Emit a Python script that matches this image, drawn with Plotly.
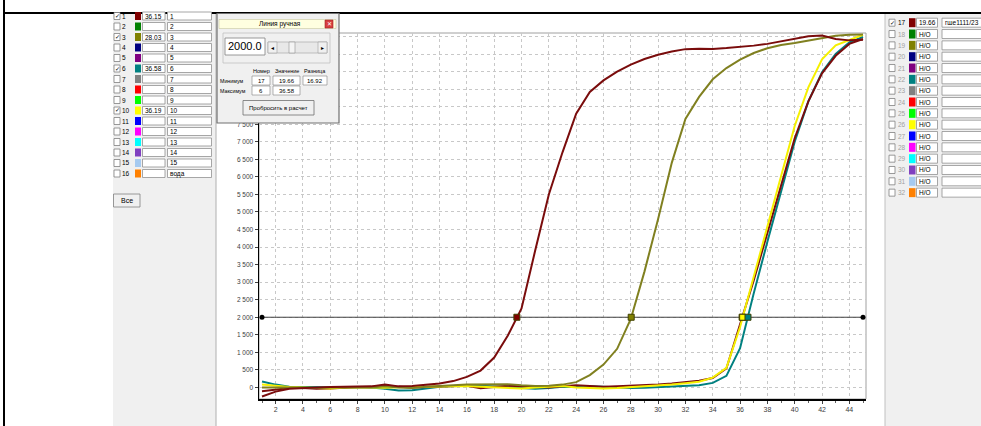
import plotly.graph_objects as go

# ---------------- data ----------------
cycles = list(range(1, 46))

s17_red = [-260, -120, -40, -10, 0, 10, 20, 10, 30, 80,
           30, 40, 70, 110, 180, 300, 480, 850, 1480, 2250,
           3900, 5500, 6700, 7800, 8420, 8750, 9000, 9200, 9360, 9480,
           9570, 9640, 9650, 9645, 9670, 9700, 9740, 9790, 9860, 9950,
           10010, 10030, 9930, 9890, 9910]
s3_olive = [0, 10, 0, -10, -20, 0, 10, 0, 0, 30,
            0, -20, 20, 50, 60, 80, 90, 100, 90, 60,
            40, 50, 80, 150, 350, 650, 1100, 1950, 3300, 4800,
            6400, 7650, 8280, 8780, 9100, 9340, 9530, 9665, 9760, 9815,
            9880, 9960, 10020, 10050, 10060]
s1_red = [-110, -60, -20, -20, -40, -30, 0, 10, 20, 40,
          20, 0, 10, 30, 40, 50, -20, 20, 50, 30,
          10, 0, 30, 60, 40, 20, 30, 40, 60, 80,
          110, 150, 190, 270, 540, 1800, 3050, 4400, 5750, 7100,
          8150, 8950, 9450, 9790, 9930]
s10_yellow = [80, 40, 10, 0, -20, -30, 0, 10, 0, -10,
              10, 20, 20, 30, 50, 40, 20, 0, -20, -30,
              0, 20, 40, 0, -20, -30, -20, 0, 20, 50,
              80, 120, 160, 280, 560, 1720, 3150, 4600, 6000, 7450,
              8550, 9350, 9750, 9900, 10050]
s6_teal = [170, 80, 20, 10, 20, 0, 0, 10, 0, -40,
           -90, -80, -20, 20, 40, 60, 50, 30, 20, -10,
           -40, -20, 20, 10, 30, 20, -10, -20, -10, 10,
           20, 30, 60, 130, 330, 1120, 2680, 4150, 5600, 7000,
           8150, 8980, 9500, 9830, 9990]

threshold = 2000.0
ct_values = [19.66, 28.03, 36.15, 36.19, 36.58]
ct_colors = ["#800000", "#808000", "#800000", "#ffff00", "#008080"]

y_tick_vals = list(range(0, 10001, 500))
x_tick_vals = list(range(2, 45, 2))

left_ids = list(range(1, 17))
right_ids = list(range(17, 33))
well_colors = ["#800000", "#008000", "#808000", "#000080", "#800080", "#008080",
               "#808080", "#ff0000", "#00ff00", "#ffff00", "#0000ff", "#ff00ff",
               "#00ffff", "#8040c0", "#a6caf0", "#ff8000"]
left_checked = [True, False, True, False, False, True, False, False, False, True,
                False, False, False, False, False, False]
left_ct = ["36.15", "", "28.03", "", "", "36.58", "", "", "", "36.19",
           "", "", "", "", "", ""]
left_names = ["1", "2", "3", "4", "5", "6", "7", "8", "9", "10",
              "11", "12", "13", "14", "15", "вода"]
right_checked = [True] + [False] * 15
right_ct = ["19.66"] + ["Н/О"] * 15
right_names = ["гше1111/23"] + [""] * 15

# ---------------- geometry helpers ----------------
W, H = 981, 426
ML, MR, MT, MB = 259, 115, 33, 27
FONT = "Liberation Sans, Arial, sans-serif"


def fx(x):
    return (x - ML) / (W - ML - MR)


def fy(y):
    return (H - MB - y) / (H - MT - MB)


shapes = []
anns = []


def rect(x0, y0, x1, y1, fill, line=None, lw=1, layer="above"):
    shapes.append(dict(type="rect", xref="paper", yref="paper",
                       x0=fx(x0), x1=fx(x1), y0=fy(y1), y1=fy(y0),
                       fillcolor=fill,
                       line=dict(color=line if line else fill, width=lw if line else 0),
                       layer=layer))


def seg(x0, y0, x1, y1, color, w=1, layer="above"):
    shapes.append(dict(type="line", xref="paper", yref="paper",
                       x0=fx(x0), x1=fx(x1), y0=fy(y0), y1=fy(y1),
                       line=dict(color=color, width=w), layer=layer))


def text(x, y, s, size=7, color="#000000", anchor="left"):
    anns.append(dict(xref="paper", yref="paper", x=fx(x), y=fy(y), text=s,
                     showarrow=False, xanchor=anchor, yanchor="middle",
                     borderpad=0,
                     font=dict(size=size, color=color, family=FONT)))


# ---------------- figure ----------------
fig = go.Figure()

series = [
    (s6_teal, "#008080"),
    (s1_red, "#7a0c0c"),
    (s10_yellow, "#f5f000"),
    (s3_olive, "#808020"),
    (s17_red, "#7a0c0c"),
]
for ys, col in series:
    fig.add_trace(go.Scatter(x=cycles, y=ys, mode="lines",
                             line=dict(color=col, width=2), hoverinfo="skip"))

fig.add_trace(go.Scatter(x=[cycles[0], cycles[-1]], y=[threshold, threshold],
                         mode="lines+markers", hoverinfo="skip",
                         line=dict(color="#404040", width=1),
                         marker=dict(color="#000000", size=5, symbol="circle")))
fig.add_trace(go.Scatter(x=ct_values, y=[threshold] * len(ct_values), mode="markers",
                         hoverinfo="skip",
                         marker=dict(symbol="square", size=6, color=ct_colors,
                                     line=dict(color="#404000", width=1))))

# plot frame (gray top/right)
shapes.append(dict(type="rect", xref="paper", yref="paper", x0=0, x1=1, y0=0, y1=1,
                   line=dict(color="#a0a0a0", width=1), fillcolor="rgba(0,0,0,0)",
                   layer="below"))

# outer window lines
seg(4, 0, 4, 426, "#000000", 2)
seg(4, 13, 981, 13, "#000000", 2)

# ---- left panel ----
rect(113, 14, 216, 426, "#f0f0f0")
seg(216, 14, 216, 426, "#b0b0b0", 1)
for i, wid in enumerate(left_ids):
    yc = 16 + i * 10.5
    rect(114, yc - 3.5, 120, yc + 3.5, "#ffffff", "#808080", 0.8)
    if left_checked[i]:
        text(114.3, yc, "✓", 6, "#000000")
    text(121, yc, str(wid), 6.5, "#000000")
    rect(135, yc - 4, 141, yc + 4, well_colors[i])
    rect(142.5, yc - 4, 165, yc + 4, "#ffffff", "#909090", 0.8)
    if left_ct[i]:
        text(143.5, yc, left_ct[i], 6.5)
    rect(167.5, yc - 4, 211.5, yc + 4, "#ffffff", "#909090", 0.8)
    text(168.5, yc, left_names[i], 6.5)
rect(113.5, 194, 140, 207, "#f0f0f0", "#808080", 0.8)
text(126.75, 200.5, "Все", 7, "#000000", "center")

# ---- right panel ----
rect(885, 14, 981, 426, "#f0f0f0")
seg(885, 14, 885, 426, "#c0c0c0", 1)
for i, wid in enumerate(right_ids):
    yc = 22.7 + i * 11.33
    rect(889, yc - 3.5, 895, yc + 3.5, "#ffffff", "#808080", 0.8)
    if right_checked[i]:
        text(889.3, yc, "✓", 6, "#000000")
    text(897, yc, str(wid), 6.5, "#000000" if right_checked[i] else "#a0a0a0")
    rect(909, yc - 4.5, 915.5, yc + 4.5, well_colors[i])
    rect(916.5, yc - 4.5, 937.5, yc + 4.5, "#ffffff", "#909090", 0.8)
    text(918, yc, right_ct[i], 6.5)
    rect(942, yc - 4.5, 990, yc + 4.5, "#ffffff", "#909090", 0.8)
    if right_names[i]:
        text(943.5, yc, right_names[i], 6.5)

# ---- dialog "Линия ручная" ----
rect(217, 13.5, 339, 123, "#f0f0f0", "#707070", 1.2)
rect(219, 19.5, 336, 28.5, "#ffffe0", "#c8c8a0", 0.6)
text(280, 24, "Линия ручная", 6.5, "#000000", "center")
rect(325, 20, 333, 28, "#d84040", "#a02020", 0.6)
text(329, 24, "✕", 6, "#ffffff", "center")
rect(223, 33, 330, 63, "#f0f0f0", "#c0c0c0", 0.8)
rect(225, 38, 265, 55, "#ffffff", "#808080", 0.8)
text(226.5, 46.5, "2000.0", 11, "#000000")
rect(268, 42, 327, 53, "#e8e8e8", "#a0a0a0", 0.6)
rect(268, 42, 277, 53, "#f0f0f0", "#a0a0a0", 0.6)
text(272.5, 47.5, "◂", 5.5, "#000000", "center")
rect(318, 42, 327, 53, "#f0f0f0", "#a0a0a0", 0.6)
text(322.5, 47.5, "▸", 5.5, "#000000", "center")
rect(289, 42, 295, 53, "#f4f4f4", "#909090", 0.6)
text(261, 71.5, "Номер", 5.5, "#000000", "center")
text(286.5, 71.5, "Значение", 5.5, "#000000", "center")
text(315, 71.5, "Разница", 5.5, "#000000", "center")
text(218.5, 80.5, "Минимум", 5.3, "#000000")
text(218.5, 90.5, "Максимум", 5.3, "#000000")
rect(252, 76, 270, 85, "#ffffff", "#808080", 0.6)
text(261, 80.5, "17", 6, "#000000", "center")
rect(273, 76, 300, 85, "#ffffff", "#808080", 0.6)
text(286.5, 80.5, "19.66", 6, "#000000", "center")
rect(303, 76, 327, 85, "#ffffff", "#808080", 0.6)
text(315, 80.5, "16.92", 6, "#000000", "center")
rect(252, 86, 270, 95, "#ffffff", "#808080", 0.6)
text(261, 90.5, "6", 6, "#000000", "center")
rect(273, 86, 300, 95, "#ffffff", "#808080", 0.6)
text(286.5, 90.5, "36.58", 6, "#000000", "center")
rect(243, 100.5, 314, 115, "#f0f0f0", "#707070", 0.8)
text(278.5, 108, "Пробросить в расчет", 6, "#000000", "center")

# tick labels above 7 500 sit under the dialog, so they are left blank
y_tick_text = [f"{v:,}".replace(",", " ") if v <= 7500 else "" for v in y_tick_vals]

fig.update_layout(
    width=W, height=H,
    margin=dict(l=ML, r=MR, t=MT, b=MB),
    paper_bgcolor="#ffffff", plot_bgcolor="#ffffff",
    showlegend=False, hovermode=False,
    shapes=shapes, annotations=anns,
    font=dict(family=FONT, size=7, color="#404040"),
    xaxis=dict(range=[0.78, 45.22], tickvals=x_tick_vals,
               ticktext=[str(v) for v in x_tick_vals],
               showgrid=True, gridcolor="#c8c8c8", griddash="dot", gridwidth=1,
               zeroline=False, showline=True, linecolor="#000000", linewidth=1.5,
               ticks="outside", ticklen=3, tickcolor="#404040",
               tickfont=dict(size=7, color="#404040", family=FONT),
               minor=dict(dtick=1, tick0=1, ticks="outside", ticklen=2,
                          tickcolor="#606060", showgrid=False)),
    yaxis=dict(range=[-330, 10100], tickvals=y_tick_vals, ticktext=y_tick_text,
               showgrid=True, gridcolor="#c8c8c8", griddash="dot", gridwidth=1,
               zeroline=False, showline=True, linecolor="#000000", linewidth=1.5,
               ticks="outside", ticklen=3, tickcolor="#404040",
               tickfont=dict(size=6.5, color="#404040", family=FONT)),
)

fig.write_html("out.html", config={"displayModeBar": False, "staticPlot": True},
               post_script="document.body.style.margin='0px';document.body.style.overflow='hidden';")
